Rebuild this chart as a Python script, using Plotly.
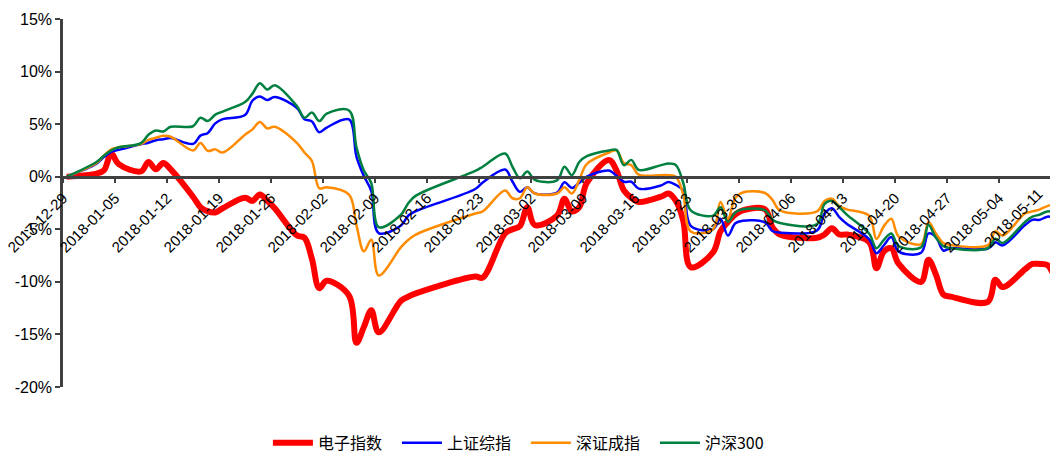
import pandas as pd
import plotly.graph_objects as go

dates = [
    "2017-12-29",
    "2018-01-02", "2018-01-03", "2018-01-04", "2018-01-05",
    "2018-01-08", "2018-01-09", "2018-01-10", "2018-01-11", "2018-01-12",
    "2018-01-15", "2018-01-16", "2018-01-17", "2018-01-18", "2018-01-19",
    "2018-01-22", "2018-01-23", "2018-01-24", "2018-01-25", "2018-01-26",
    "2018-01-29", "2018-01-30", "2018-01-31", "2018-02-01", "2018-02-02",
    "2018-02-05", "2018-02-06", "2018-02-07", "2018-02-08", "2018-02-09",
    "2018-02-12", "2018-02-13", "2018-02-14",
    "2018-02-22", "2018-02-23",
    "2018-02-26", "2018-02-27", "2018-02-28", "2018-03-01", "2018-03-02",
    "2018-03-05", "2018-03-06", "2018-03-07", "2018-03-08", "2018-03-09",
    "2018-03-12", "2018-03-13", "2018-03-14", "2018-03-15", "2018-03-16",
    "2018-03-19", "2018-03-20", "2018-03-21", "2018-03-22", "2018-03-23",
    "2018-03-26", "2018-03-27", "2018-03-28", "2018-03-29", "2018-03-30",
    "2018-04-02", "2018-04-03", "2018-04-04",
    "2018-04-09", "2018-04-10", "2018-04-11", "2018-04-12", "2018-04-13",
    "2018-04-16", "2018-04-17", "2018-04-18", "2018-04-19", "2018-04-20",
    "2018-04-23", "2018-04-24", "2018-04-25", "2018-04-26", "2018-04-27",
    "2018-05-02", "2018-05-03", "2018-05-04",
    "2018-05-07", "2018-05-08", "2018-05-09", "2018-05-10", "2018-05-11",
]

# 电子指数 (%)
electronics = [
    0.0,
    0.3, 0.6, 2.2, 1.2,
    0.5, 1.4, 0.7, 1.3, 0.7,
    -1.9, -2.9, -3.3, -3.4, -3.0,
    -2.0, -2.3, -1.7, -2.3, -3.0,
    -5.6, -5.8, -7.8, -10.6, -9.9,
    -11.3, -15.8, -14.3, -12.7, -14.8,
    -11.8, -11.4, -11.1,
    -9.5, -9.6,
    -5.4, -5.0, -4.7, -2.9, -4.6,
    -3.7, -2.1, -3.3, -2.9, -0.6,
    1.6, 0.6, -1.3, -2.0, -2.4,
    -1.9, -1.6, -2.3, -4.2, -8.6,
    -7.2, -5.2, -4.3, -3.6, -3.2,
    -3.1, -4.8, -5.5,
    -5.8, -5.5, -4.9, -5.5, -5.5,
    -6.2, -8.7, -7.1, -6.8, -8.3,
    -10.0, -7.9, -9.3, -11.2, -11.4,
    -11.9, -9.8, -10.5,
    -8.8, -8.3, -8.3, -8.4, -9.6,
]

# 上证综指 (%)
sse = [
    0.0,
    1.24, 1.87, 2.37, 2.56,
    3.09, 3.23, 3.47, 3.57, 3.68,
    3.12, 3.91, 4.16, 5.07, 5.47,
    5.87, 7.24, 7.63, 7.29, 7.59,
    6.53, 5.47, 5.25, 4.23, 4.68,
    5.45, 1.92, 0.06, -1.36, -5.36,
    -4.63, -3.69, -3.27,
    -1.17, -0.55,
    0.68, -0.46, -1.44, -1.01, -1.59,
    -1.52, -0.53, -1.07, -0.57, 0.00,
    0.59, 0.09, -0.48, -0.48, -1.13,
    -0.84, -0.50, -0.79, -1.32, -4.67,
    -5.0, -4.0, -5.59, -4.43, -4.18,
    -4.35, -5.16, -5.32,
    -5.11, -3.53, -2.99, -3.84, -4.48,
    -5.94, -7.27, -6.52, -5.74, -7.12,
    -7.23, -5.39, -5.72, -7.02, -6.80,
    -6.83, -6.24, -6.53,
    -4.6, -4.1, -4.1, -3.8, -3.9,
]

# 深证成指 (%)
szse = [
    0.0,
    1.3, 2.0, 2.6, 2.8,
    3.1, 3.5, 3.7, 3.9, 3.8,
    2.5, 3.2, 2.45, 2.6, 2.3,
    4.0, 4.5, 5.2, 4.6, 4.75,
    3.2, 2.3, 1.5, -1.1, -1.0,
    -1.7, -4.6, -7.1, -6.0, -9.4,
    -6.7, -6.0, -5.5,
    -3.5, -3.3,
    -1.3, -2.05, -2.05, -1.0, -1.6,
    -1.6, -1.0, -1.6, -0.3, 1.2,
    2.3, 2.5, 1.3, 1.1, 0.2,
    0.15, 0.15, 0.0, -1.7, -5.2,
    -5.0, -2.4, -4.0, -2.0, -1.5,
    -1.55, -2.2, -3.2,
    -3.3, -2.3, -2.1, -2.8, -3.1,
    -3.7, -5.9, -4.7, -4.0, -5.7,
    -6.4, -4.3, -5.4, -6.3, -6.5,
    -6.5, -5.2, -5.6,
    -3.5, -3.3, -3.1, -2.8, -2.6,
]

# 沪深300 (%)
csi300 = [
    0.0,
    1.4, 2.0, 2.5, 2.8,
    3.2, 4.0, 4.4, 4.3, 4.75,
    4.8, 5.6, 5.3, 5.9, 6.2,
    7.1, 7.9, 8.9, 8.3, 8.7,
    6.7, 5.6, 6.1, 5.3, 6.0,
    6.3, 2.8, 0.6, -0.6, -4.8,
    -3.6, -2.5, -1.8,
    0.55, 0.95,
    2.2, 0.95, -0.15, 0.5, -0.3,
    -0.35, 0.95, 0.15, 1.4, 1.95,
    2.5, 2.55, 1.1, 1.6, 0.65,
    1.1, 1.25, 1.1, -0.6, -3.2,
    -3.7, -2.9, -4.3, -3.4, -3.1,
    -3.2, -4.1, -4.4,
    -4.5, -2.6, -2.3, -2.9, -3.6,
    -5.4, -6.8, -6.0, -5.4, -6.6,
    -6.7, -4.6, -5.8, -6.6, -6.8,
    -6.8, -5.9, -6.3,
    -4.3, -3.8, -3.6, -3.3, -3.4,
]

series_names = ["电子指数", "上证综指", "深证成指", "沪深300"]
series_values = [electronics, sse, szse, csi300]
series_colors = ["#FF0000", "#0000FF", "#FF8C00", "#008040"]
series_widths = [6, 2.5, 2.5, 2.5]

x_tick_labels = [
    "2017-12-29", "2018-01-05", "2018-01-12", "2018-01-19", "2018-01-26",
    "2018-02-02", "2018-02-09", "2018-02-16", "2018-02-23", "2018-03-02",
    "2018-03-09", "2018-03-16", "2018-03-23", "2018-03-30", "2018-04-06",
    "2018-04-13", "2018-04-20", "2018-04-27", "2018-05-04", "2018-05-11",
]
y_tick_values = [-20, -15, -10, -5, 0, 5, 10, 15]
y_tick_labels = ["-20%", "-15%", "-10%", "-5%", "0%", "5%", "10%", "15%"]

# points sit in the middle of each day on the date axis
x = pd.to_datetime(dates) + pd.Timedelta(hours=12)

fig = go.Figure()
for name, vals, col, w in zip(series_names, series_values, series_colors, series_widths):
    fig.add_trace(go.Scatter(
        x=x, y=vals, mode="lines", name=name,
        line=dict(color=col, width=w, shape="spline", smoothing=1.0),
    ))

axis_col = "#404040"
y_min, y_max = -20, 15
x_start, x_end = "2017-12-29 00:00", "2018-05-10 20:40"
axis_pos = (0 - y_min) / (y_max - y_min)
x_label_font = dict(size=15, family="Liberation Sans, Arial, sans-serif", color="#000000")

# last weekly label sits at the right edge, just past the visible axis range
t0, t1 = pd.Timestamp(x_start), pd.Timestamp(x_end)
last_tick = pd.Timestamp(x_tick_labels[-1])
last_tick_paper = (last_tick - t0) / (t1 - t0)

fig.add_annotation(
    x=last_tick_paper, xref="paper", y=axis_pos, yref="paper",
    text=x_tick_labels[-1], showarrow=False, textangle=-45,
    xanchor="right", yanchor="top", xshift=-2, yshift=-5,
    font=x_label_font,
)

fig.update_layout(
    width=1050, height=454,
    margin=dict(l=63, r=0, t=19, b=67, autoexpand=False),
    paper_bgcolor="white", plot_bgcolor="white",
    font=dict(family="Liberation Sans, Arial, sans-serif", color="#000000"),
    legend=dict(
        orientation="h", x=0.469, xanchor="center", y=-0.152, yanchor="middle",
        font=dict(family="Noto Sans CJK SC", size=16, color="#000000"),
        bgcolor="rgba(0,0,0,0)",
        itemwidth=40, entrywidth=74, entrywidthmode="pixels",
    ),
    xaxis=dict(
        type="date",
        range=[x_start, x_end],
        anchor="free", position=axis_pos,
        tickvals=pd.to_datetime(x_tick_labels), ticktext=x_tick_labels,
        tickangle=-45, tickfont=x_label_font,
        ticks="outside", ticklen=5, tickwidth=2, tickcolor=axis_col,
        showline=True, linecolor=axis_col, linewidth=2.5,
        showgrid=False, zeroline=False,
    ),
    yaxis=dict(
        range=[y_min, y_max],
        tickvals=y_tick_values, ticktext=y_tick_labels,
        tickfont=dict(size=16, family="Liberation Sans, Arial, sans-serif", color="#000000"),
        ticks="outside", ticklen=5, tickwidth=2, tickcolor=axis_col,
        showline=True, linecolor=axis_col, linewidth=2.5,
        showgrid=False, zeroline=False,
    ),
)

fig.write_html("out.html")
